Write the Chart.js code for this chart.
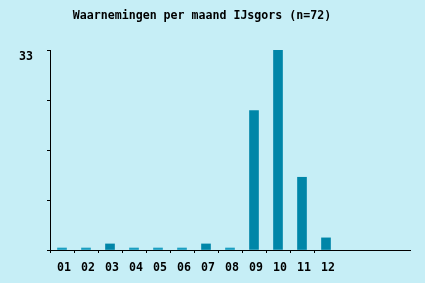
<html><head><meta charset="utf-8">
<script src="https://cdn.jsdelivr.net/npm/chart.js@4"></script>
<style>
body{margin:0;background:#c6eef6;}
#c{display:block;}
</style>
</head>
<body>
<canvas id="c" width="425" height="283"></canvas>
<script>
var chartTitle = 'Waarnemingen per maand IJsgors (n=72)';
var months = ['01','02','03','04','05','06','07','08','09','10','11','12'];
var emptySlots = ['','',''];
var counts = [0,0,1,0,0,0,1,0,23,33,12,2];
var yTickValues = [0, 8.25, 16.5, 24.75, 33];
var yTickLabels = ['', '', '', '', '33'];

var monoFont = {family: '"DejaVu Sans Mono", monospace', size: 11.6, weight: 'bold'};

// title is drawn by hand, the reference centres it left of the plot
var titlePlugin = {
  id: 'handTitle',
  afterDraw: function(chart) {
    var c = chart.ctx;
    c.save();
    c.font = 'bold 11.6px "DejaVu Sans Mono", monospace';
    c.fillStyle = '#000';
    c.textAlign = 'center';
    c.textBaseline = 'middle';
    c.fillText(chartTitle, 202, 16);
    c.restore();
  }
};

var ctx = document.getElementById('c');
var chart = new Chart(ctx, {
  type: 'bar',
  data: {
    labels: months.concat(emptySlots),
    datasets: [{
      data: counts,
      backgroundColor: function(c) { return c.raw === 0 ? '#1a9ec0' : '#0086a8'; },
      barThickness: 9,
      minBarLength: 2,
      borderWidth: 0
    }]
  },
  plugins: [titlePlugin],
  options: {
    responsive: false,
    animation: false,
    devicePixelRatio: 1,
    layout: {padding: {top: 50, right: 15, left: 0, bottom: 0}},
    plugins: {legend: {display: false}, tooltip: {enabled: false}, title: {display: false}},
    scales: {
      x: {
        offset: true,
        grid: {
          drawOnChartArea: false,
          tickLength: 3,
          tickColor: function(c) { return c.tick && c.tick.label ? '#000' : 'rgba(0,0,0,0)'; }
        },
        border: {display: true, color: '#000', width: 1},
        ticks: {color: '#000', font: monoFont, padding: 8, labelOffset: 2, autoSkip: false, maxRotation: 0},
        afterFit: function(s) { s.height = 33; }
      },
      y: {
        min: 0,
        max: 33,
        grid: {drawOnChartArea: false, tickLength: 3, tickColor: '#000'},
        border: {display: true, color: '#000', width: 1},
        ticks: {
          color: '#000', font: monoFont, padding: 14, labelOffset: 7,
          callback: function(v, i) { return yTickLabels[i]; }
        },
        afterBuildTicks: function(s) { s.ticks = yTickValues.map(function(v){ return {value: v}; }); },
        afterFit: function(s) { s.width = 50; }
      }
    }
  }
});
</script>
</body></html>
